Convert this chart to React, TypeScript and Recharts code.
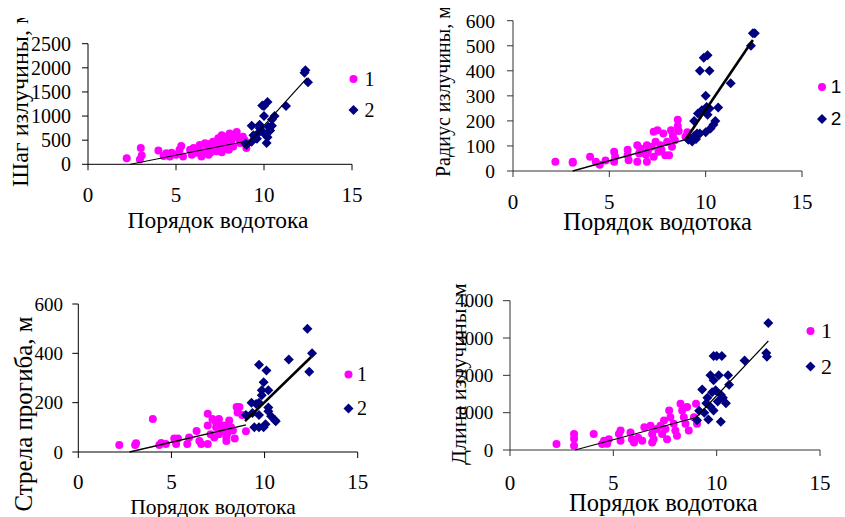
import React from 'react';
import { ScatterChart, Scatter, XAxis, YAxis, Legend } from 'recharts';

type Pt = [number, number];

// ---------- shared ----------
const orderTicks = [0, 5, 10, 15];
const xTitleText = 'Порядок водотока';
const groupNames = ['1', '2'];

// ---------- Шаг излучины ----------
const shagTitle = 'Шаг излучины, м';
const shagTicks = [0, 500, 1000, 1500, 2000, 2500];
const shagGroup1: Pt[] = [
  [2.2, 125], [3.0, 340], [3.05, 180], [2.95, 100], [4.0, 285], [4.3, 170], [4.45, 230], [4.65, 160],
  [4.75, 240], [5.0, 200], [5.2, 300], [5.3, 380], [5.4, 160], [5.8, 300], [5.9, 200], [6.0, 340],
  [6.2, 240], [6.35, 400], [6.35, 270], [6.45, 160], [6.6, 230], [6.65, 435], [6.75, 300], [6.85, 200],
  [6.95, 240], [7.1, 470], [7.2, 350], [7.3, 270], [7.4, 540], [7.5, 400], [7.6, 600], [7.7, 470],
  [7.8, 330], [7.85, 570], [7.95, 440], [8.05, 640], [8.15, 500], [8.25, 370], [8.35, 600], [8.45, 670],
  [8.55, 540], [8.65, 440], [8.8, 570], [8.9, 500], [9.0, 340], [7.3, 380], [7.0, 330], [8.0, 300],
  [6.9, 420], [7.6, 250],
];
const shagGroup2: Pt[] = [
  [12.35, 1950], [12.3, 1900], [12.5, 1700], [11.25, 1210], [10.2, 1290], [10.0, 1210], [9.9, 1220],
  [10.0, 1000], [10.6, 1000], [10.45, 930], [9.3, 800], [9.75, 820], [10.45, 800], [10.35, 700],
  [9.7, 660], [10.0, 640], [10.2, 560], [9.4, 600], [9.6, 530], [9.3, 470], [9.0, 400], [8.95, 430],
  [10.15, 440], [9.75, 750], [10.25, 780], [9.5, 550], [9.85, 700],
];
const shagTrendLow: Pt[] = [[2.4, 0], [9.0, 480]];
const shagTrendHigh: Pt[] = [[8.9, 360], [12.45, 1790]];

// ---------- Радиус излучины ----------
const radiusTitle = 'Радиус излучины, м';
const radiusTicks = [0, 100, 200, 300, 400, 500, 600];
const radiusGroup1: Pt[] = [
  [2.2, 37], [3.1, 37], [3.1, 33], [4.0, 57], [4.3, 37], [4.5, 25], [4.8, 42], [5.25, 77], [5.25, 37],
  [5.3, 57], [5.95, 85], [5.95, 63], [6.0, 43], [6.45, 103], [6.55, 70], [6.45, 37], [6.95, 103],
  [6.95, 37], [6.9, 65], [7.2, 97], [7.3, 157], [7.5, 163], [7.4, 117], [7.55, 77], [7.65, 103],
  [7.8, 150], [8.0, 117], [8.1, 63], [8.2, 163], [8.25, 97], [8.4, 123], [8.55, 205], [8.55, 180],
  [8.6, 160], [9.05, 155], [8.95, 137], [9.1, 130], [7.9, 63], [7.3, 57], [6.6, 90], [7.0, 80],
  [7.7, 85], [8.3, 140],
];
const radiusGroup2: Pt[] = [
  [12.45, 550], [12.55, 550], [12.35, 500], [9.9, 452], [10.1, 462], [9.7, 400], [10.2, 400],
  [11.3, 350], [10.0, 300], [9.8, 243], [10.05, 255], [10.2, 250], [10.65, 253], [10.1, 225],
  [9.6, 230], [9.4, 200], [10.5, 200], [10.4, 185], [10.25, 170], [10.0, 155], [9.7, 150],
  [9.55, 150], [9.4, 140], [9.3, 118], [9.5, 128], [9.1, 125],
];
const radiusTrendLow: Pt[] = [[3.1, 0], [8.95, 125]];
const radiusTrendHigh: Pt[] = [[8.95, 125], [12.45, 523]];

// ---------- Стрела прогиба ----------
const strelaTitle = 'Стрела прогиба, м';
const strelaTicks = [0, 200, 400, 600];
const strelaGroup1: Pt[] = [
  [2.2, 28], [3.05, 28], [3.1, 35], [4.0, 134], [4.35, 28], [4.45, 36], [4.7, 32], [5.15, 55],
  [5.25, 32], [5.35, 55], [5.85, 32], [5.95, 59], [6.35, 85], [6.5, 45], [6.6, 32], [6.95, 155],
  [6.95, 107], [6.95, 32], [7.2, 134], [7.4, 100], [7.55, 134], [7.55, 72], [7.3, 59], [7.85, 107],
  [7.95, 59], [8.1, 128], [8.2, 100], [8.3, 87], [8.4, 55], [8.5, 182], [8.65, 182], [8.55, 160],
  [9.0, 84], [8.8, 150], [7.75, 85], [7.1, 72], [7.95, 45], [7.6, 110], [8.0, 75], [7.35, 125],
];
const strelaGroup2: Pt[] = [
  [12.3, 500], [12.55, 400], [12.4, 325], [11.3, 375], [9.7, 354], [10.1, 330], [9.95, 283],
  [9.85, 250], [10.2, 250], [9.85, 230], [9.3, 200], [9.55, 195], [9.7, 200], [10.2, 180],
  [10.2, 165], [9.0, 150], [9.35, 158], [9.7, 150], [10.35, 145], [10.55, 130], [9.45, 100],
  [9.7, 100], [9.95, 100], [10.05, 112], [10.6, 125],
];
const strelaTrendLow: Pt[] = [[2.75, 0], [9.0, 110]];
const strelaTrendHigh: Pt[] = [[8.95, 125], [12.5, 385]];

// ---------- Длина излучины ----------
const dlinaTitle = 'Длина излучины, м';
const dlinaTicks = [0, 1000, 2000, 3000, 4000];
const dlinaGroup1: Pt[] = [
  [2.25, 160], [3.1, 115], [3.1, 430], [3.1, 300], [4.05, 430], [4.46, 160], [4.55, 250], [4.78, 290],
  [4.7, 170], [5.35, 520], [5.27, 430], [5.35, 250], [5.83, 470], [5.9, 290], [6.0, 200], [6.5, 610],
  [6.4, 250], [6.8, 650], [6.88, 430], [6.95, 290], [6.88, 200], [7.28, 650], [7.36, 430], [7.45, 790],
  [7.52, 565], [7.6, 290], [7.7, 1060], [7.76, 880], [7.92, 700], [8.0, 520], [8.08, 380], [8.25, 1240],
  [8.33, 1060], [8.41, 880], [8.49, 700], [8.57, 1150], [8.65, 520], [9.0, 1240], [9.05, 700],
  [8.9, 880], [7.1, 560], [6.2, 330],
];
const dlinaGroup2: Pt[] = [
  [12.5, 3400], [12.4, 2600], [12.43, 2500], [11.35, 2400], [9.85, 2520], [10.0, 2520], [10.25, 2520],
  [9.7, 2000], [10.1, 2000], [10.55, 2000], [9.85, 1870], [10.6, 1750], [9.3, 1620], [9.78, 1550],
  [9.95, 1600], [10.2, 1480], [9.55, 1400], [10.3, 1400], [10.05, 1300], [9.5, 1250], [10.45, 1250],
  [9.7, 1160], [9.15, 1050], [9.4, 1000], [9.05, 800], [9.6, 820], [10.2, 760], [9.85, 1060],
];
const dlinaTrendLow: Pt[] = [[3.15, 0], [9.0, 870]];
const dlinaTrendHigh: Pt[] = [[9.0, 870], [12.5, 2920]];

// ---------- styling ----------
const SERIF = "'Liberation Serif', 'Times New Roman', serif";
const SANS = "'Liberation Sans', Arial, sans-serif";
const PINK = '#FF00FF';
const NAVY = '#000080';

const toPts = (a: Pt[]) => a.map(([x, y]) => ({ x, y }));

const DotShape = (p: any) => <circle cx={p.cx} cy={p.cy} r={4} fill={p.fill} />;
const DiamondShape = (p: any) => (
  <polygon
    points={`${p.cx},${p.cy - 5} ${p.cx + 5},${p.cy} ${p.cx},${p.cy + 5} ${p.cx - 5},${p.cy}`}
    fill={p.fill}
  />
);
const NoShape = () => <g />;

type PanelCfg = {
  id: string;
  left: number; top: number; width: number; height: number;
  margin: { top: number; right: number; bottom: number; left: number };
  yMax: number; yTicks: number[];
  g1: Pt[]; g2: Pt[]; tLow: Pt[]; tHigh: Pt[];
  lowWidth: number; highWidth: number;
  axisColor: string;
  xTickFont: number; xTickMargin: number;
  yTickFont: number; yTickMargin: number; yTickSize: number;
  xTitle: { x: number; y: number; size: number };
  yTitle: { text: string; x: number; y: number; size: number; clipTop: number };
  legend: { left: number; top: number; mx: number; tx: number; rows: number[]; font: string; size: number };
};

const panels: PanelCfg[] = [
  {
    id: 'a', left: 0, top: 0, width: 420, height: 258,
    margin: { top: 43.7, right: 68, bottom: 33.7, left: 28 },
    yMax: 2500, yTicks: shagTicks, g1: shagGroup1, g2: shagGroup2, tLow: shagTrendLow, tHigh: shagTrendHigh,
    lowWidth: 1, highWidth: 1.2, axisColor: '#000',
    xTickFont: 21, xTickMargin: 16.6, yTickFont: 20, yTickMargin: 11, yTickSize: 6,
    xTitle: { x: 218, y: 228, size: 23.5 },
    yTitle: { text: shagTitle, x: 28, y: 187, size: 24, clipTop: 18 },
    legend: { left: 343, top: 66, mx: 10.5, tx: 26.5, rows: [13, 44], font: SERIF, size: 20 },
  },
  {
    id: 'b', left: 420, top: 0, width: 425, height: 258,
    margin: { top: 20.7, right: 43, bottom: 27, left: 33 },
    yMax: 600, yTicks: radiusTicks, g1: radiusGroup1, g2: radiusGroup2, tLow: radiusTrendLow, tHigh: radiusTrendHigh,
    lowWidth: 1.4, highWidth: 2.6, axisColor: '#333',
    xTickFont: 21, xTickMargin: 16.6, yTickFont: 19.5, yTickMargin: 12, yTickSize: 6,
    xTitle: { x: 237.5, y: 230, size: 24.5 },
    yTitle: { text: radiusTitle, x: 30, y: 177, size: 20, clipTop: 8 },
    legend: { left: 392, top: 75, mx: 10, tx: 24, rows: [12, 44], font: SANS, size: 19 },
  },
  {
    id: 'c', left: 0, top: 258, width: 420, height: 259,
    margin: { top: 46, right: 62.3, bottom: 5, left: 18.3 },
    yMax: 600, yTicks: strelaTicks, g1: strelaGroup1, g2: strelaGroup2, tLow: strelaTrendLow, tHigh: strelaTrendHigh,
    lowWidth: 1.4, highWidth: 2.6, axisColor: '#000',
    xTickFont: 21, xTickMargin: 16.4, yTickFont: 19, yTickMargin: 9.3, yTickSize: 6,
    xTitle: { x: 213, y: 255.5, size: 21.5 },
    yTitle: { text: strelaTitle, x: 31.5, y: 253.5, size: 25, clipTop: 58 },
    legend: { left: 338, top: 104, mx: 10.5, tx: 24, rows: [12.5, 46.5], font: SERIF, size: 20 },
  },
  {
    id: 'd', left: 420, top: 258, width: 425, height: 259,
    margin: { top: 42.7, right: 25, bottom: 7, left: 30 },
    yMax: 4000, yTicks: dlinaTicks, g1: dlinaGroup1, g2: dlinaGroup2, tLow: dlinaTrendLow, tHigh: dlinaTrendHigh,
    lowWidth: 1.2, highWidth: 1.2, axisColor: '#333',
    xTickFont: 21, xTickMargin: 19, yTickFont: 19, yTickMargin: 9.7, yTickSize: 7,
    xTitle: { x: 243.3, y: 253, size: 24.5 },
    yTitle: { text: dlinaTitle, x: 46, y: 207, size: 22, clipTop: 23 },
    legend: { left: 380, top: 60, mx: 10.5, tx: 26.5, rows: [13, 48.5], font: SERIF, size: 22 },
  },
];

function makeLegend(cfg: PanelCfg) {
  return (props: any) => {
    const items = (props.payload || []).filter((e: any) => e.type !== 'none');
    const lg = cfg.legend;
    return (
      <svg width={40} height={62} style={{ display: 'block', overflow: 'visible' }}>
        {items.map((e: any, i: number) => {
          const cy = lg.rows[i] ?? lg.rows[0] + i * 32;
          const mx = lg.mx;
          const marker =
            e.type === 'diamond' ? (
              <polygon points={`${mx},${cy - 5} ${mx + 5},${cy} ${mx},${cy + 5} ${mx - 5},${cy}`} fill={e.color} />
            ) : (
              <circle cx={mx} cy={cy} r={4} fill={e.color} />
            );
          return (
            <g key={i}>
              {marker}
              <text x={lg.tx} y={cy + lg.size * 0.34} textAnchor="middle" fontFamily={lg.font} fontSize={lg.size} fill="#000">
                {e.value}
              </text>
            </g>
          );
        })}
      </svg>
    );
  };
}

function Panel({ cfg }: { cfg: PanelCfg }) {
  const yt = cfg.yTitle;
  const ly = yt.y - yt.clipTop;
  return (
    <div style={{ position: 'absolute', left: cfg.left, top: cfg.top, width: cfg.width, height: cfg.height }}>
      <ScatterChart width={cfg.width} height={cfg.height} margin={cfg.margin}>
        <XAxis
          type="number"
          dataKey="x"
          domain={[0, 15]}
          ticks={orderTicks}
          interval={0}
          height={60}
          axisLine={{ stroke: cfg.axisColor, strokeWidth: 1 }}
          tickLine={{ stroke: cfg.axisColor, strokeWidth: 1 }}
          tickSize={6}
          tickMargin={cfg.xTickMargin}
          tick={{ fontFamily: SERIF, fontSize: cfg.xTickFont, fill: '#000' }}
          label={() => (
            <text x={cfg.xTitle.x} y={cfg.xTitle.y} textAnchor="middle" fontFamily={SERIF} fontSize={cfg.xTitle.size} fill="#000">
              {xTitleText}
            </text>
          )}
        />
        <YAxis
          type="number"
          dataKey="y"
          domain={[0, cfg.yMax]}
          ticks={cfg.yTicks}
          interval={0}
          width={60}
          axisLine={{ stroke: cfg.axisColor, strokeWidth: 1 }}
          tickLine={{ stroke: cfg.axisColor, strokeWidth: 1 }}
          tickSize={cfg.yTickSize}
          tickMargin={cfg.yTickMargin}
          tick={{ fontFamily: SERIF, fontSize: cfg.yTickFont, fill: '#000' }}
          label={() => (
            <svg x={0} y={yt.clipTop} width={120} height={cfg.height - yt.clipTop} overflow="hidden">
              <text
                x={yt.x}
                y={ly}
                transform={`rotate(-90 ${yt.x} ${ly})`}
                textAnchor="start"
                fontFamily={SERIF}
                fontSize={yt.size}
                fill="#000"
              >
                {yt.text}
              </text>
            </svg>
          )}
        />
        <Scatter
          name={groupNames[0]}
          data={toPts(cfg.g1)}
          fill={PINK}
          shape={DotShape}
          legendType="circle"
          isAnimationActive={false}
        />
        <Scatter
          name={groupNames[1]}
          data={toPts(cfg.g2)}
          fill={NAVY}
          shape={DiamondShape}
          legendType="diamond"
          isAnimationActive={false}
        />
        <Scatter
          name="trend-low"
          data={toPts(cfg.tLow)}
          fill="none"
          shape={NoShape}
          line={{ stroke: '#000', strokeWidth: cfg.lowWidth }}
          legendType="none"
          isAnimationActive={false}
        />
        <Scatter
          name="trend-high"
          data={toPts(cfg.tHigh)}
          fill="none"
          shape={NoShape}
          line={{ stroke: '#000', strokeWidth: cfg.highWidth }}
          legendType="none"
          isAnimationActive={false}
        />
        <Legend
          layout="vertical"
          align="center"
          verticalAlign="middle"
          content={makeLegend(cfg)}
          wrapperStyle={{ left: cfg.legend.left, top: cfg.legend.top, width: 40, height: 62, margin: 0, padding: 0 }}
        />
      </ScatterChart>
    </div>
  );
}

export default function App() {
  return (
    <div style={{ position: 'absolute', left: 0, top: 0, width: 845, height: 517, background: '#fff', overflow: 'hidden' }}>
      {panels.map((p) => (
        <Panel key={p.id} cfg={p} />
      ))}
    </div>
  );
}
